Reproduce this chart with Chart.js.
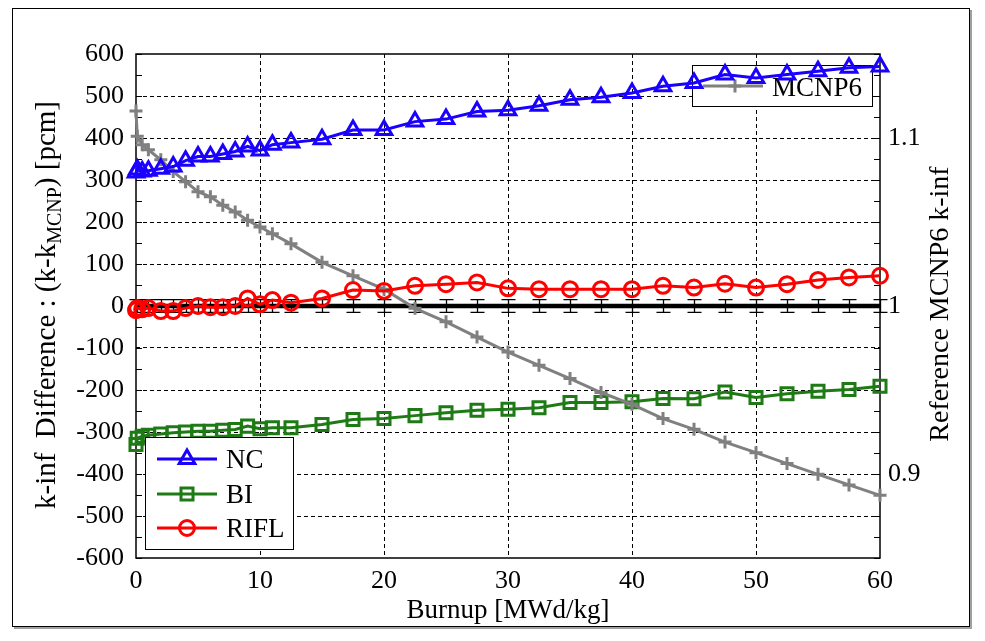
<!DOCTYPE html>
<html>
<head>
<meta charset="utf-8">
<script src="https://cdn.jsdelivr.net/npm/chart.js@4.4.1/dist/chart.umd.min.js"></script>
<style>
  html, body { margin: 0; padding: 0; background: #fff; }
  #wrap { width: 985px; height: 641px; position: relative; }
</style>
</head>
<body>
<div id="wrap"><canvas id="kinfChart"></canvas></div>
<script>
// DATA
const burnup = [0, 0.1, 0.5, 1, 2, 3, 4, 5, 6, 7, 8, 9, 10, 11, 12.5, 15, 17.5, 20, 22.5, 25,
                27.5, 30, 32.5, 35, 37.5, 40, 42.5, 45, 47.5, 50, 52.5, 55, 57.5, 60];
const ncDiff = [318, 325, 320, 322, 327, 332, 346, 356, 356, 362, 368, 380, 370, 384, 389, 397, 419, 419, 439, 445,
                463, 466, 477, 491, 497, 507, 523, 531, 551, 543, 551, 559, 567, 570];
const biDiff = [-330, -315, -310, -308, -305, -302, -300, -298, -298, -296, -294, -286, -292, -290, -290, -282, -270, -268, -261, -254,
                -248, -246, -242, -230, -230, -228, -220, -221, -205, -218, -209, -203, -199, -191];
const riflDiff = [-10, -5, -8, -5, -12, -12, -5, 0, -3, -3, 0, 18, 4, 14, 8, 18, 38, 36, 48, 52,
                  56, 42, 40, 40, 40, 40, 48, 44, 53, 44, 52, 62, 68, 72];
const mcnpKinf = [1.116, 1.101, 1.096, 1.093, 1.087, 1.080, 1.074, 1.068, 1.065, 1.060, 1.056, 1.051, 1.047, 1.043, 1.037, 1.026, 1.018, 1.010, 0.9986, 0.9906,
                  0.9815, 0.9726, 0.9647, 0.9568, 0.9485, 0.9415, 0.9330, 0.9266, 0.9190, 0.9127, 0.9062, 0.8998, 0.8935, 0.8873];
const mcnpDiff = [0, 0, 0, 0, 0, 0, 0, 0, 0, 0, 0, 0, 0, 0, 0, 0, 0, 0, 0, 0, 0, 0, 0, 0, 0, 0, 0, 0, 0, 0, 0, 0, 0, 0];
const mcnpErr = [15, 15, 15, 15, 15, 15, 15, 15, 15, 15, 15, 15, 15, 15, 15, 15, 15, 15, 15, 15,
                 15, 15, 15, 15, 15, 15, 15, 15, 15, 15, 15, 15, 15, 15];
const rightTickLabels = [0.9, 1, 1.1];

// STYLE
const serif = '"Liberation Serif", "DejaVu Serif", serif';
const blue = '#1a00ff';
const green = '#1e7a14';
const red = '#ff0000';
const gray = '#808080';

function toXY(vals) {
    return vals.map((v, i) => ({ x: burnup[i], y: v }));
}

function drawMarker(ctx, style, x, y, r, color) {
    ctx.save();
    ctx.strokeStyle = color;
    ctx.lineWidth = 3;
    ctx.beginPath();
    if (style === 'triangle') {
        for (let k = 0; k < 3; k++) {
            const a = -Math.PI / 2 + k * 2 * Math.PI / 3;
            const px = x + Math.cos(a) * r, py = y + Math.sin(a) * r;
            if (k === 0) ctx.moveTo(px, py); else ctx.lineTo(px, py);
        }
        ctx.closePath();
    } else if (style === 'rect') {
        const s = r * Math.SQRT1_2;
        ctx.rect(x - s, y - s, 2 * s, 2 * s);
    } else if (style === 'circle') {
        ctx.arc(x, y, r, 0, Math.PI * 2);
    } else if (style === 'cross') {
        ctx.moveTo(x - r, y); ctx.lineTo(x + r, y);
        ctx.moveTo(x, y - r); ctx.lineTo(x, y + r);
    }
    ctx.stroke();
    ctx.restore();
}

const decorPlugin = {
    id: 'decor',
    beforeDraw(chart) {
        const ctx = chart.ctx;
        ctx.save();
        ctx.fillStyle = '#fff';
        ctx.fillRect(0, 0, chart.width, chart.height);
        ctx.strokeStyle = '#000';
        ctx.lineWidth = 1;
        ctx.strokeRect(12.5, 8.5, 957, 618);
        ctx.strokeStyle = '#a0a0a0';
        ctx.lineWidth = 2;
        ctx.beginPath();
        ctx.moveTo(971, 10); ctx.lineTo(971, 628); ctx.lineTo(14, 628);
        ctx.stroke();
        ctx.restore();
    },
    beforeDatasetsDraw(chart) {
        const ctx = chart.ctx;
        const a = chart.chartArea;
        const xs = chart.scales.x, ys = chart.scales.y;
        ctx.save();
        // plot box
        ctx.strokeStyle = '#000';
        ctx.lineWidth = 1.5;
        ctx.strokeRect(a.left, a.top, a.right - a.left, a.bottom - a.top);
        // inward minor ticks on both sides
        ctx.lineWidth = 1;
        ctx.beginPath();
        ys.ticks.forEach(t => {
            const py = Math.round(ys.getPixelForValue(t.value)) + 0.5;
            ctx.moveTo(a.left, py); ctx.lineTo(a.left + 6, py);
            ctx.moveTo(a.right, py); ctx.lineTo(a.right - 6, py);
        });
        ctx.stroke();
        // MCNP error bars
        ctx.lineWidth = 1.3;
        ctx.beginPath();
        burnup.forEach((b, i) => {
            const px = Math.round(xs.getPixelForValue(b)) + 0.5;
            const top = ys.getPixelForValue(mcnpDiff[i] + mcnpErr[i]);
            const bot = ys.getPixelForValue(mcnpDiff[i] - mcnpErr[i]);
            ctx.moveTo(px, top); ctx.lineTo(px, bot);
            ctx.moveTo(px - 7, top); ctx.lineTo(px + 7, top);
            ctx.moveTo(px - 7, bot); ctx.lineTo(px + 7, bot);
        });
        ctx.stroke();
        // MCNP6 legend (under the NC line)
        ctx.fillStyle = '#fff';
        ctx.fillRect(692, 65, 180, 41);
        ctx.lineWidth = 1;
        ctx.strokeRect(692.5, 65.5, 180, 41);
        ctx.strokeStyle = gray;
        ctx.lineWidth = 3;
        ctx.beginPath();
        ctx.moveTo(703, 86); ctx.lineTo(763, 86);
        ctx.stroke();
        drawMarker(ctx, 'cross', 735, 86, 6.5, gray);
        ctx.fillStyle = '#000';
        ctx.font = '27px ' + serif;
        ctx.textBaseline = 'middle';
        ctx.fillText('MCNP6', 772, 89);
        ctx.restore();
    },
    afterDatasetsDraw(chart) {
        const ctx = chart.ctx;
        ctx.save();
        ctx.fillStyle = '#fff';
        ctx.fillRect(145, 437, 148, 112);
        ctx.strokeStyle = '#000';
        ctx.lineWidth = 1;
        ctx.strokeRect(145.5, 437.5, 148, 112);
        const rows = [
            { name: 'NC', color: blue, style: 'triangle', r: 9, y: 459 },
            { name: 'BI', color: green, style: 'rect', r: 8.5, y: 494 },
            { name: 'RIFL', color: red, style: 'circle', r: 7.5, y: 528 }
        ];
        ctx.font = '27px ' + serif;
        ctx.textBaseline = 'middle';
        rows.forEach(row => {
            ctx.strokeStyle = row.color;
            ctx.lineWidth = 3;
            ctx.beginPath();
            ctx.moveTo(157, row.y); ctx.lineTo(217, row.y);
            ctx.stroke();
            drawMarker(ctx, row.style, 187, row.y, row.r, row.color);
            ctx.fillStyle = '#000';
            ctx.fillText(row.name, 226, row.y + 2);
        });
        ctx.restore();
    },
    afterDraw(chart) {
        const ctx = chart.ctx;
        ctx.save();
        ctx.fillStyle = '#000';
        ctx.textBaseline = 'middle';
        // left title with subscript
        const main = '29px ' + serif, sub = '20px ' + serif;
        const p1 = 'k-inf  Difference : (k-k', p2 = 'MCNP', p3 = ') [pcm]';
        ctx.font = main;
        const w1 = ctx.measureText(p1).width, w3 = ctx.measureText(p3).width;
        ctx.font = sub;
        const w2 = ctx.measureText(p2).width;
        ctx.translate(47, 305);
        ctx.rotate(-Math.PI / 2);
        let x0 = -(w1 + w2 + w3) / 2;
        ctx.font = main;
        ctx.fillText(p1, x0, 0);
        ctx.font = sub;
        ctx.fillText(p2, x0 + w1, 9);
        ctx.font = main;
        ctx.fillText(p3, x0 + w1 + w2, 0);
        ctx.restore();
        // right title
        ctx.save();
        ctx.fillStyle = '#000';
        ctx.textBaseline = 'middle';
        ctx.textAlign = 'center';
        ctx.font = '28px ' + serif;
        ctx.translate(941, 304);
        ctx.rotate(-Math.PI / 2);
        ctx.fillText('Reference MCNP6 k-inf', 0, 0);
        ctx.restore();
    }
};

function lineSet(label, values, color, style, radius, axis, width) {
    return {
        label: label,
        data: toXY(values),
        yAxisID: axis,
        borderColor: color,
        borderWidth: width,
        pointStyle: style,
        pointRadius: radius,
        pointBorderWidth: 3,
        pointBorderColor: color,
        pointBackgroundColor: 'rgba(0,0,0,0)',
        fill: false,
        tension: 0,
        clip: false
    };
}

const gridColor = c => (c.tick && c.tick.value % 100 === 0 && Math.abs(c.tick.value) < 600) ? '#000' : 'rgba(0,0,0,0)';
const xGridColor = c => (c.tick && c.tick.value > 0 && c.tick.value < 60) ? '#000' : 'rgba(0,0,0,0)';

const myChart = new Chart(document.getElementById('kinfChart'), {
    type: 'line',
    data: {
        datasets: [
            lineSet('NC', ncDiff, blue, 'triangle', 9, 'y', 3),
            lineSet('RIFL', riflDiff, red, 'circle', 7.5, 'y', 3),
            lineSet('MCNP6', mcnpKinf, gray, 'cross', 6.5, 'y2', 3),
            lineSet('BI', biDiff, green, 'rect', 8.5, 'y', 3),
            Object.assign(lineSet('MCNP diff', mcnpDiff, '#000', 'circle', 0, 'y', 4.5), { pointRadius: 0 })
        ]
    },
    options: {
        responsive: true,
        maintainAspectRatio: false,
        animation: false,
        layout: { padding: { top: 54, left: 0, right: 0, bottom: 0 } },
        plugins: { legend: { display: false }, tooltip: { enabled: false } },
        scales: {
            x: {
                type: 'linear', min: 0, max: 60,
                ticks: { stepSize: 10, color: '#000', font: { family: serif, size: 26 }, padding: 8, maxRotation: 0 },
                grid: { color: xGridColor, lineWidth: 1, drawTicks: false },
                border: { display: false, dash: [4, 3] },
                title: { display: true, text: 'Burnup [MWd/kg]', color: '#000', font: { family: serif, size: 27 }, padding: { top: 0, bottom: 14 } },
                afterFit: s => { s.height = 83; }
            },
            y: {
                position: 'left', min: -600, max: 600,
                ticks: { stepSize: 50, autoSkip: false, color: '#000', font: { family: serif, size: 26 }, padding: 12,
                         callback: v => (v % 100 === 0 ? String(v) : '') },
                grid: { color: gridColor, lineWidth: 1, drawTicks: false },
                border: { display: false, dash: [4, 3] },
                afterFit: s => { s.width = 136; }
            },
            y2: {
                position: 'right', min: 0.85, max: 1.15,
                afterBuildTicks: s => { s.ticks = rightTickLabels.map(v => ({ value: v })); },
                ticks: { color: '#000', font: { family: serif, size: 26 }, padding: 8, callback: v => String(v) },
                grid: { display: false, drawTicks: false },
                border: { display: false },
                afterFit: s => { s.width = 105; }
            }
        }
    },
    plugins: [decorPlugin]
});
</script>
</body>
</html>
